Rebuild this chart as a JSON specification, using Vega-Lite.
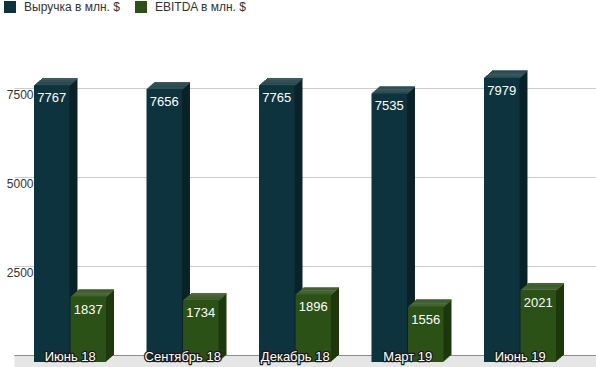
{
  "$schema": "https://vega.github.io/schema/vega-lite/v6.json",
  "width": 582,
  "height": 303,
  "autosize": {"type": "none"},
  "padding": {"left": 14, "top": 59, "right": 0, "bottom": 5},
  "background": "white",
  "config": {
    "view": {"stroke": null},
    "font": "Liberation Sans"
  },
  "data": {
    "values": [
      {"cat": "Июнь 18", "series": "Выручка в млн. $", "value": 7767},
      {"cat": "Июнь 18", "series": "EBITDA в млн. $", "value": 1837},
      {"cat": "Сентябрь 18", "series": "Выручка в млн. $", "value": 7656},
      {"cat": "Сентябрь 18", "series": "EBITDA в млн. $", "value": 1734},
      {"cat": "Декабрь 18", "series": "Выручка в млн. $", "value": 7765},
      {"cat": "Декабрь 18", "series": "EBITDA в млн. $", "value": 1896},
      {"cat": "Март 19", "series": "Выручка в млн. $", "value": 7535},
      {"cat": "Март 19", "series": "EBITDA в млн. $", "value": 1556},
      {"cat": "Июнь 19", "series": "Выручка в млн. $", "value": 7979},
      {"cat": "Июнь 19", "series": "EBITDA в млн. $", "value": 2021}
    ]
  },
  "encoding": {
    "x": {
      "field": "cat", "type": "nominal", "sort": null,
      "scale": {"paddingInner": 0, "paddingOuter": 0.0867, "align": 0},
      "axis": {"labels": false, "ticks": false, "title": null, "domainColor": "#e6e6e6", "domainWidth": 14, "grid": false, "zindex": 0}
    },
    "y": {
      "field": "value", "type": "quantitative",
      "scale": {"domain": [0, 8500], "nice": false},
      "axis": {
        "values": [0, 2500, 5000, 7500], "format": "d",
        "labelExpr": "datum.value === 0 ? '' : datum.label",
        "domain": false, "ticks": false, "tickSize": 0,
        "tickOffset": -7, "labelOffset": 7, "labelPadding": -19,
        "labelFontSize": 12, "labelColor": "#333333", "labelFont": "Liberation Sans",
        "gridColor": {"condition": {"test": "datum.value === 0", "value": "#333333"}, "value": "#cccccc"},
        "title": null, "zindex": 0
      }
    }
  },
  "resolve": {"scale": {"xOffset": "independent"}},
  "layer": [
    {"mark": {"type": "bar", "yOffset": -7, "y2Offset": -7},
     "encoding": {"xOffset": {"field": "series", "type": "nominal", "scale": {"domain": ["Выручка в млн. $", "EBITDA в млн. $"], "range": [28, 100], "paddingInner": 0.028, "paddingOuter": 0}},
       "color": {"condition": {"test": "datum.series === 'Выручка в млн. $'", "value": "#092329"}, "value": "#1d380d"}}},
    {"mark": {"type": "bar", "yOffset": -7, "y2Offset": -5.8},
     "encoding": {"xOffset": {"field": "series", "type": "nominal", "scale": {"domain": ["Выручка в млн. $", "EBITDA в млн. $"], "range": [28, 100], "paddingInner": 0.028, "paddingOuter": 0}},
       "y2": {"field": "value"},
       "color": {"condition": {"test": "datum.series === 'Выручка в млн. $'", "value": "#3c5c62"}, "value": "#4f6d3e"}}},
    {"mark": {"type": "bar", "yOffset": -6.125, "y2Offset": -6.125},
     "encoding": {"xOffset": {"field": "series", "type": "nominal", "scale": {"domain": ["Выручка в млн. $", "EBITDA в млн. $"], "range": [27, 99], "paddingInner": 0.028, "paddingOuter": 0}},
       "color": {"condition": {"test": "datum.series === 'Выручка в млн. $'", "value": "#092329"}, "value": "#1d380d"}}},
    {"mark": {"type": "bar", "yOffset": -6.125, "y2Offset": -4.925},
     "encoding": {"xOffset": {"field": "series", "type": "nominal", "scale": {"domain": ["Выручка в млн. $", "EBITDA в млн. $"], "range": [27, 99], "paddingInner": 0.028, "paddingOuter": 0}},
       "y2": {"field": "value"},
       "color": {"condition": {"test": "datum.series === 'Выручка в млн. $'", "value": "#3c5c62"}, "value": "#4f6d3e"}}},
    {"mark": {"type": "bar", "yOffset": -5.25, "y2Offset": -5.25},
     "encoding": {"xOffset": {"field": "series", "type": "nominal", "scale": {"domain": ["Выручка в млн. $", "EBITDA в млн. $"], "range": [26, 98], "paddingInner": 0.028, "paddingOuter": 0}},
       "color": {"condition": {"test": "datum.series === 'Выручка в млн. $'", "value": "#092329"}, "value": "#1d380d"}}},
    {"mark": {"type": "bar", "yOffset": -5.25, "y2Offset": -4.05},
     "encoding": {"xOffset": {"field": "series", "type": "nominal", "scale": {"domain": ["Выручка в млн. $", "EBITDA в млн. $"], "range": [26, 98], "paddingInner": 0.028, "paddingOuter": 0}},
       "y2": {"field": "value"},
       "color": {"condition": {"test": "datum.series === 'Выручка в млн. $'", "value": "#3c5c62"}, "value": "#4f6d3e"}}},
    {"mark": {"type": "bar", "yOffset": -4.375, "y2Offset": -4.375},
     "encoding": {"xOffset": {"field": "series", "type": "nominal", "scale": {"domain": ["Выручка в млн. $", "EBITDA в млн. $"], "range": [25, 97], "paddingInner": 0.028, "paddingOuter": 0}},
       "color": {"condition": {"test": "datum.series === 'Выручка в млн. $'", "value": "#092329"}, "value": "#1d380d"}}},
    {"mark": {"type": "bar", "yOffset": -4.375, "y2Offset": -3.175},
     "encoding": {"xOffset": {"field": "series", "type": "nominal", "scale": {"domain": ["Выручка в млн. $", "EBITDA в млн. $"], "range": [25, 97], "paddingInner": 0.028, "paddingOuter": 0}},
       "y2": {"field": "value"},
       "color": {"condition": {"test": "datum.series === 'Выручка в млн. $'", "value": "#3c5c62"}, "value": "#4f6d3e"}}},
    {"mark": {"type": "bar", "yOffset": -3.5, "y2Offset": -3.5},
     "encoding": {"xOffset": {"field": "series", "type": "nominal", "scale": {"domain": ["Выручка в млн. $", "EBITDA в млн. $"], "range": [24, 96], "paddingInner": 0.028, "paddingOuter": 0}},
       "color": {"condition": {"test": "datum.series === 'Выручка в млн. $'", "value": "#092329"}, "value": "#1d380d"}}},
    {"mark": {"type": "bar", "yOffset": -3.5, "y2Offset": -2.3},
     "encoding": {"xOffset": {"field": "series", "type": "nominal", "scale": {"domain": ["Выручка в млн. $", "EBITDA в млн. $"], "range": [24, 96], "paddingInner": 0.028, "paddingOuter": 0}},
       "y2": {"field": "value"},
       "color": {"condition": {"test": "datum.series === 'Выручка в млн. $'", "value": "#3c5c62"}, "value": "#4f6d3e"}}},
    {"mark": {"type": "bar", "yOffset": -2.625, "y2Offset": -2.625},
     "encoding": {"xOffset": {"field": "series", "type": "nominal", "scale": {"domain": ["Выручка в млн. $", "EBITDA в млн. $"], "range": [23, 95], "paddingInner": 0.028, "paddingOuter": 0}},
       "color": {"condition": {"test": "datum.series === 'Выручка в млн. $'", "value": "#092329"}, "value": "#1d380d"}}},
    {"mark": {"type": "bar", "yOffset": -2.625, "y2Offset": -1.425},
     "encoding": {"xOffset": {"field": "series", "type": "nominal", "scale": {"domain": ["Выручка в млн. $", "EBITDA в млн. $"], "range": [23, 95], "paddingInner": 0.028, "paddingOuter": 0}},
       "y2": {"field": "value"},
       "color": {"condition": {"test": "datum.series === 'Выручка в млн. $'", "value": "#3c5c62"}, "value": "#4f6d3e"}}},
    {"mark": {"type": "bar", "yOffset": -1.75, "y2Offset": -1.75},
     "encoding": {"xOffset": {"field": "series", "type": "nominal", "scale": {"domain": ["Выручка в млн. $", "EBITDA в млн. $"], "range": [22, 94], "paddingInner": 0.028, "paddingOuter": 0}},
       "color": {"condition": {"test": "datum.series === 'Выручка в млн. $'", "value": "#092329"}, "value": "#1d380d"}}},
    {"mark": {"type": "bar", "yOffset": -1.75, "y2Offset": -0.55},
     "encoding": {"xOffset": {"field": "series", "type": "nominal", "scale": {"domain": ["Выручка в млн. $", "EBITDA в млн. $"], "range": [22, 94], "paddingInner": 0.028, "paddingOuter": 0}},
       "y2": {"field": "value"},
       "color": {"condition": {"test": "datum.series === 'Выручка в млн. $'", "value": "#3c5c62"}, "value": "#4f6d3e"}}},
    {"mark": {"type": "bar", "yOffset": -0.875, "y2Offset": -0.875},
     "encoding": {"xOffset": {"field": "series", "type": "nominal", "scale": {"domain": ["Выручка в млн. $", "EBITDA в млн. $"], "range": [21, 93], "paddingInner": 0.028, "paddingOuter": 0}},
       "color": {"condition": {"test": "datum.series === 'Выручка в млн. $'", "value": "#092329"}, "value": "#1d380d"}}},
    {"mark": {"type": "bar", "yOffset": -0.875, "y2Offset": 0.325},
     "encoding": {"xOffset": {"field": "series", "type": "nominal", "scale": {"domain": ["Выручка в млн. $", "EBITDA в млн. $"], "range": [21, 93], "paddingInner": 0.028, "paddingOuter": 0}},
       "y2": {"field": "value"},
       "color": {"condition": {"test": "datum.series === 'Выручка в млн. $'", "value": "#3c5c62"}, "value": "#4f6d3e"}}},
    {"mark": {"type": "bar"},
     "encoding": {"xOffset": {"field": "series", "type": "nominal", "scale": {"domain": ["Выручка в млн. $", "EBITDA в млн. $"], "range": [20, 92], "paddingInner": 0.028, "paddingOuter": 0}},
       "color": {"field": "series", "type": "nominal",
         "scale": {"domain": ["Выручка в млн. $", "EBITDA в млн. $"], "range": ["#0d343e", "#2b5117"]},
         "legend": {"orient": "none", "legendX": -10, "legendY": -58, "direction": "horizontal", "title": null,
           "symbolType": "square", "symbolSize": 144, "symbolStrokeWidth": 0, "symbolOpacity": 1,
           "labelFontSize": 12, "labelColor": "#333333", "labelFont": "Liberation Sans",
           "columnPadding": 15, "labelOffset": 8}}}},
    {"mark": {"type": "text", "baseline": "middle", "align": "center", "dy": 13, "color": "#ffffff", "fontSize": 13, "font": "Liberation Sans"},
     "encoding": {"xOffset": {"field": "series", "type": "nominal", "scale": {"type": "point", "domain": ["Выручка в млн. $", "EBITDA в млн. $"], "range": [37.75, 74.25], "padding": 0}},
       "text": {"field": "value", "type": "quantitative", "format": "d"}}},
    {"transform": [{"filter": "datum.series === 'Выручка в млн. $'"}],
     "mark": {"type": "text", "baseline": "alphabetic", "dy": -1, "fontSize": 13, "font": "Liberation Sans", "fill": "#1a1a1a", "stroke": "#1a1a1a", "strokeWidth": 2.5, "strokeJoin": "round"},
     "encoding": {"y": {"datum": 0}, "text": {"field": "cat", "type": "nominal"}}},
    {"transform": [{"filter": "datum.series === 'Выручка в млн. $'"}],
     "mark": {"type": "text", "baseline": "alphabetic", "dy": -1, "fontSize": 13, "font": "Liberation Sans", "fill": "#ffffff"},
     "encoding": {"y": {"datum": 0}, "text": {"field": "cat", "type": "nominal"}}}
  ]
}
